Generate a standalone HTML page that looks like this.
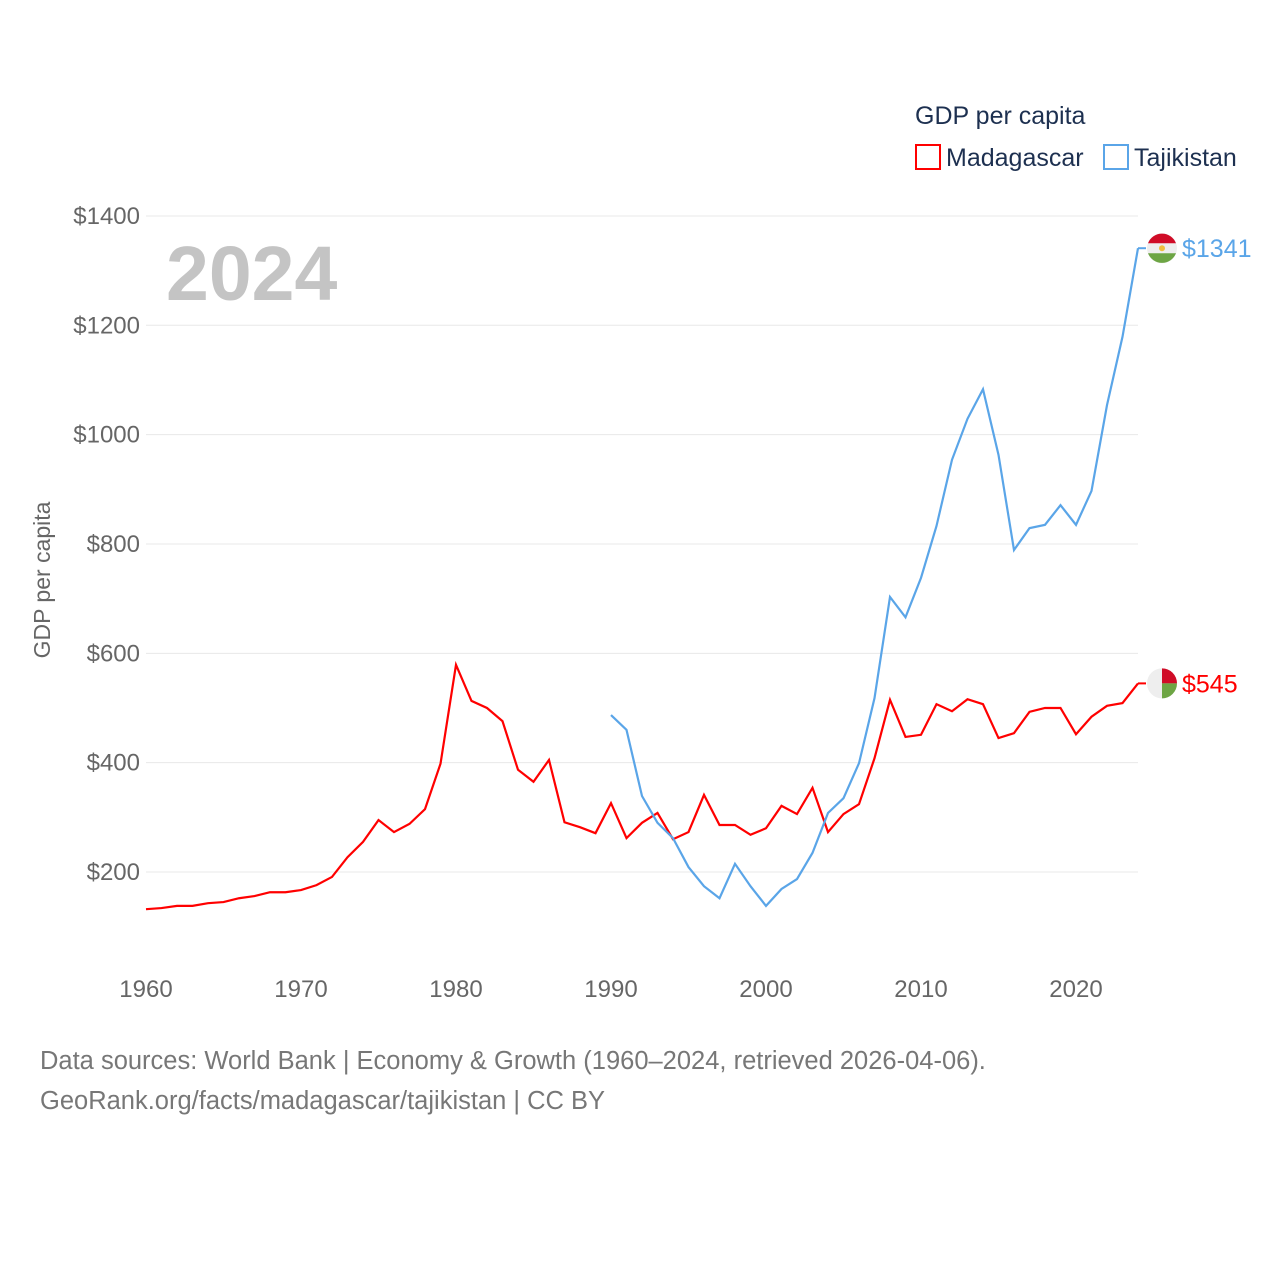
<!DOCTYPE html>
<html><head><meta charset="utf-8"><style>
body{margin:0;background:#fff;font-family:"Liberation Sans",sans-serif}
svg{display:block}
</style></head><body>
<svg width="1280" height="1280" viewBox="0 0 1280 1280">
<g id="grid"></g>
<g id="yt"></g>
<g id="xt"></g>
<text x="166" y="300" font-size="77" font-weight="bold" fill="#c4c4c4">2024</text>
<text transform="translate(50,580) rotate(-90)" text-anchor="middle" font-size="23" fill="#666">GDP per capita</text>
<g id="lines"></g>
<text x="915" y="124" font-size="25" fill="#1d3050">GDP per capita</text>
<g><rect x="916" y="145" width="24" height="24" fill="none" stroke="#f00" stroke-width="2"/><text x="946" y="166" font-size="25" fill="#1d3050">Madagascar</text></g>
<g><rect x="1104" y="145" width="24" height="24" fill="none" stroke="#5aa5e8" stroke-width="2"/><text x="1134" y="166" font-size="25" fill="#1d3050">Tajikistan</text></g>
<g id="ends"></g>
<text x="40" y="1069" font-size="25.5" fill="#777">Data sources: World Bank | Economy &amp; Growth (1960–2024, retrieved 2026-04-06).</text>
<text x="40" y="1109" font-size="25.5" fill="#777">GeoRank.org/facts/madagascar/tajikistan | CC BY</text>
</svg>
<script>
const yTicks=[200,400,600,800,1000,1200,1400];
const xTicks=[1960,1970,1980,1990,2000,2010,2020];
const madYears=[];for(let y=1960;y<=2024;y++)madYears.push(y);
const madagascar=[132,134,138,138,143,145,152,156,163,163,167,176,191,227,255,295,273,288,315,398,579,513,500,476,387,365,405,291,282,271,326,262,290,308,260,273,341,286,286,268,280,321,306,354,273,306,324,408,515,447,451,507,494,516,507,445,454,493,500,500,452,484,504,509,545];
const tajYears=[];for(let y=1990;y<=2024;y++)tajYears.push(y);
const tajikistan=[487,460,339,290,262,209,174,152,215,174,138,169,187,235,308,335,399,518,703,666,738,833,954,1029,1083,963,789,829,835,871,835,897,1054,1179,1341];
const X=y=>146+(y-1960)*15.5;
const Y=v=>872-(v-200)*0.5467;
const NS='http://www.w3.org/2000/svg';
function mk(t,a,p){const e=document.createElementNS(NS,t);for(const k in a)e.setAttribute(k,a[k]);p.appendChild(e);return e;}
const grid=document.getElementById('grid'),yt=document.getElementById('yt'),xt=document.getElementById('xt');
yTicks.forEach(v=>{
 const l=mk('line',{x1:146,x2:1138,y1:Y(v),y2:Y(v),stroke:'#e8e8e8','stroke-width':1},grid);
 
 
 const t=mk('text',{x:140,y:Y(v)+8,'text-anchor':'end','font-size':24,fill:'#666'},yt);
 t.textContent='$'+v;
 
 
});
xTicks.forEach(y=>{
 const t=mk('text',{x:X(y),y:997,'text-anchor':'middle','font-size':24,fill:'#666'},xt);
 t.textContent=y;
 
 
});
const lines=document.getElementById('lines');
function series(ys,vs,col,name){
 const p=mk('polyline',{points:ys.map((y,i)=>X(y)+','+Y(vs[i])).join(' '),fill:'none',stroke:col,'stroke-width':2.2,'stroke-linejoin':'miter'},lines);
 
 
}
series(madYears,madagascar,'#f00','madagascar-line');
series(tajYears,tajikistan,'#5aa5e8','tajikistan-line');
const ends=document.getElementById('ends');
function endLabel(v,col,name,flag,mad){
 const y=Y(v);
 mk('line',{x1:1138,x2:1146,y1:y,y2:y,stroke:col,'stroke-width':2},ends);
 const g=mk('g',{},ends);
 
 
 mk('circle',{cx:1162,cy:y,r:15,fill:'#eee'},g);
 if(mad){
  mk('path',{d:`M1162,${y} L1162,${y-15} A15,15 0 0 1 1177,${y} Z`,fill:'#d00c27'},g);
  mk('path',{d:`M1162,${y} L1177,${y} A15,15 0 0 1 1162,${y+15} Z`,fill:'#6da544'},g);
  mk('rect',{x:1158,y:y-15,width:4,height:30,fill:'#d00c27'},g).setAttribute('fill-opacity','0');
 }else{
  mk('path',{d:`M1148,${y-5} A15,15 0 0 1 1176,${y-5} Z`,fill:'#d00c27'},g);
  mk('path',{d:`M1148,${y+5} A15,15 0 0 0 1176,${y+5} Z`,fill:'#6da544'},g);
  mk('circle',{cx:1162,cy:y,r:3,fill:'#f0c040'},g);
 }
 const t=mk('text',{x:1182,y:y+9,'font-size':25,fill:col},ends);
 t.textContent='$'+v;
 
 
}
endLabel(tajikistan[tajikistan.length-1],'#5aa5e8','tajikistan-end-label','tajikistan-flag',false);
endLabel(madagascar[madagascar.length-1],'#f00','madagascar-end-label','madagascar-flag',true);
</script>
</body></html>
